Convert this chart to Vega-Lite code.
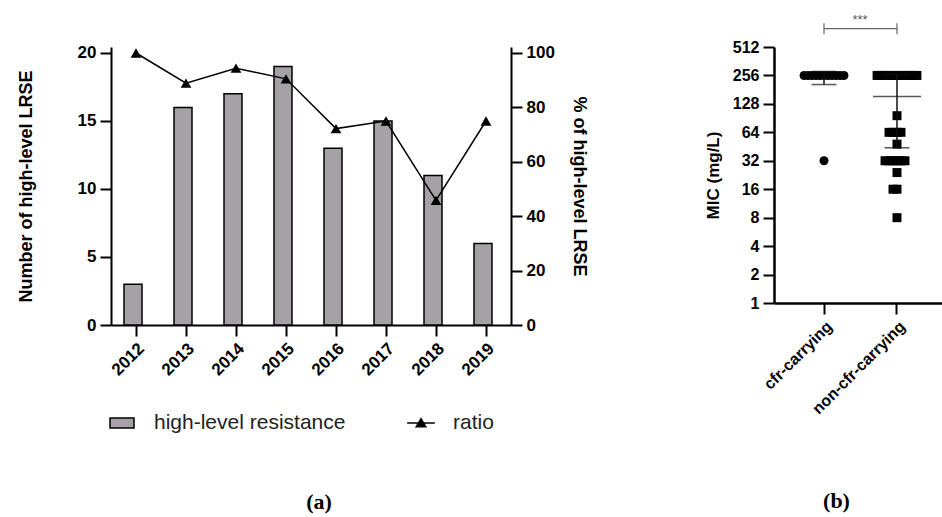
{
  "$schema": "https://vega.github.io/schema/vega-lite/v6.json",
  "padding": {"left": 17, "top": 13, "right": 0, "bottom": 0},
  "background": "white",
  "bounds": "flush",
  "spacing": 263,
  "config": {
    "font": "Liberation Sans",
    "view": {"stroke": null},
    "axis": {
      "domainColor": "#000", "domainWidth": 2, "tickColor": "#000", "tickWidth": 2, "tickSize": 11,
      "labelColor": "#000", "labelFont": "Liberation Sans", "labelFontWeight": "bold", "labelFontSize": 17,
      "titleFont": "Liberation Sans", "titleFontWeight": "bold", "titleFontSize": 18, "titleColor": "#000",
      "grid": false, "labelPadding": 4
    },
    "legend": {"labelFontSize": 21, "labelFont": "Liberation Sans", "labelColor": "#222", "labelFontWeight": "normal", "labelLimit": 400},
    "title": {"font": "Liberation Serif", "fontWeight": "bold", "fontSize": 22, "color": "#000"}
  },
  "datasets": {
    "yearly": [
      {"year": "2012", "count": 3, "ratio": 100},
      {"year": "2013", "count": 16, "ratio": 88.9},
      {"year": "2014", "count": 17, "ratio": 94.4},
      {"year": "2015", "count": 19, "ratio": 90.5},
      {"year": "2016", "count": 13, "ratio": 72.2},
      {"year": "2017", "count": 15, "ratio": 75},
      {"year": "2018", "count": 11, "ratio": 45.8},
      {"year": "2019", "count": 6, "ratio": 75}
    ],
    "mic": [
      {"group": "cfr-carrying", "mic": 256}, {"group": "cfr-carrying", "mic": 256}, {"group": "cfr-carrying", "mic": 256},
      {"group": "cfr-carrying", "mic": 256}, {"group": "cfr-carrying", "mic": 256}, {"group": "cfr-carrying", "mic": 256},
      {"group": "cfr-carrying", "mic": 256}, {"group": "cfr-carrying", "mic": 256}, {"group": "cfr-carrying", "mic": 256},
      {"group": "cfr-carrying", "mic": 256}, {"group": "cfr-carrying", "mic": 256},
      {"group": "cfr-carrying", "mic": 32},
      {"group": "non-cfr-carrying", "mic": 256}, {"group": "non-cfr-carrying", "mic": 256}, {"group": "non-cfr-carrying", "mic": 256},
      {"group": "non-cfr-carrying", "mic": 256}, {"group": "non-cfr-carrying", "mic": 256}, {"group": "non-cfr-carrying", "mic": 256},
      {"group": "non-cfr-carrying", "mic": 256}, {"group": "non-cfr-carrying", "mic": 256}, {"group": "non-cfr-carrying", "mic": 256},
      {"group": "non-cfr-carrying", "mic": 256}, {"group": "non-cfr-carrying", "mic": 256},
      {"group": "non-cfr-carrying", "mic": 96},
      {"group": "non-cfr-carrying", "mic": 64}, {"group": "non-cfr-carrying", "mic": 64}, {"group": "non-cfr-carrying", "mic": 64}, {"group": "non-cfr-carrying", "mic": 64},
      {"group": "non-cfr-carrying", "mic": 48},
      {"group": "non-cfr-carrying", "mic": 32}, {"group": "non-cfr-carrying", "mic": 32}, {"group": "non-cfr-carrying", "mic": 32},
      {"group": "non-cfr-carrying", "mic": 32}, {"group": "non-cfr-carrying", "mic": 32}, {"group": "non-cfr-carrying", "mic": 32},
      {"group": "non-cfr-carrying", "mic": 24},
      {"group": "non-cfr-carrying", "mic": 16}, {"group": "non-cfr-carrying", "mic": 16},
      {"group": "non-cfr-carrying", "mic": 8}
    ],
    "summary": [
      {"group": "cfr-carrying", "mean": 243, "lo": 205, "hi": 282},
      {"group": "non-cfr-carrying", "mean": 153, "lo": 44, "hi": 262}
    ],
    "sig": [
      {"from": "cfr-carrying", "to": "non-cfr-carrying", "label": "***"}
    ]
  },
  "hconcat": [
    {
      "width": 400,
      "height": 278,
      "title": {"text": "(a)", "orient": "bottom", "offset": 114, "anchor": "middle", "frame": "group", "dx": 8},
      "data": {"name": "yearly"},
      "layer": [
        {
          "mark": {"type": "bar", "stroke": "#000", "strokeWidth": 1.5},
          "encoding": {
            "x": {"field": "year", "type": "ordinal", "scale": {"paddingInner": 0.52, "paddingOuter": 0.26},
                  "axis": {"title": null, "labelAngle": -45, "labelFontSize": 17}},
            "y": {"field": "count", "type": "quantitative", "scale": {"domain": [0, 20.44], "nice": false},
                  "axis": {"title": "Number of high-level LRSE", "values": [0, 5, 10, 15, 20], "titlePadding": 42}},
            "fill": {
              "datum": "high-level resistance", "type": "nominal",
              "scale": {"domain": ["high-level resistance"], "range": ["#a6a1a6"]},
              "legend": {
                "orient": "none", "legendX": -2, "legendY": 363, "direction": "horizontal", "title": null,
                "symbolSize": 576, "symbolType": "M-1,-0.42H1V0.42H-1Z",
                "symbolStrokeColor": "#000", "symbolStrokeWidth": 1.5, "symbolOpacity": 1,
                "labelOffset": 19, "padding": 0
              }
            }
          }
        },
        {
          "layer": [
            {
              "mark": {"type": "line", "strokeWidth": 1.5},
              "encoding": {
                "x": {"field": "year", "type": "ordinal"},
                "y": {"field": "ratio", "type": "quantitative", "scale": {"domain": [0, 102.2], "nice": false},
                      "axis": {"orient": "right", "title": "% of high-level LRSE", "values": [0, 20, 40, 60, 80, 100], "titlePadding": 15}},
                "stroke": {
                  "datum": "ratio", "type": "nominal",
                  "scale": {"domain": ["ratio"], "range": ["#000000"]},
                  "legend": {
                    "orient": "none", "legendX": 297, "legendY": 363, "direction": "horizontal", "title": null,
                    "symbolSize": 576, "symbolType": "M-1.15,0H1.15M0,-0.36L0.4,0.32H-0.4Z",
                    "symbolFillColor": "#000", "symbolStrokeWidth": 1.5, "symbolOpacity": 1,
                    "labelOffset": 19, "padding": 0
                  }
                }
              }
            },
            {
              "mark": {"type": "point", "shape": "triangle-up", "size": 115, "filled": true, "opacity": 1, "color": "#000"},
              "encoding": {
                "x": {"field": "year", "type": "ordinal"},
                "y": {"field": "ratio", "type": "quantitative"}
              }
            }
          ]
        }
      ],
      "resolve": {"scale": {"y": "independent"}}
    },
    {
      "width": 173,
      "height": 256,
      "title": {"text": "(b)", "orient": "bottom", "offset": 74, "anchor": "middle", "frame": "group", "dx": -24},
      "layer": [
        {
          "data": {"name": "mic"},
          "transform": [{"window": [{"op": "row_number", "as": "rank"}], "groupby": ["group", "mic"]}],
          "mark": {"type": "point", "filled": true, "opacity": 1, "size": 81, "color": "#000"},
          "encoding": {
            "x": {"field": "group", "type": "nominal",
                  "scale": {"domain": ["cfr-carrying", "non-cfr-carrying"], "paddingInner": 0.4, "paddingOuter": 0.385},
                  "axis": {"title": null, "labelAngle": -45, "labelFontSize": 16, "domainWidth": 2.5}},
            "xOffset": {"field": "rank", "type": "nominal", "scale": {"domain": [10, 8, 6, 4, 2, 1, 3, 5, 7, 9, 11]}},
            "y": {"field": "mic", "type": "quantitative",
                  "scale": {"type": "log", "base": 2, "domain": [1, 512], "nice": false},
                  "axis": {"title": "MIC (mg/L)", "values": [1, 2, 4, 8, 16, 32, 64, 128, 256, 512], "format": "d",
                           "labelFontSize": 16, "titleFontSize": 17, "titlePadding": 10, "domainWidth": 2.5}},
            "shape": {"field": "group", "type": "nominal", "scale": {"range": ["circle", "square"]}, "legend": null}
          }
        },
        {
          "data": {"name": "summary"},
          "mark": {"type": "rule", "strokeWidth": 1.5, "color": "#111"},
          "encoding": {
            "x": {"field": "group", "type": "nominal"},
            "y": {"field": "lo", "type": "quantitative"},
            "y2": {"field": "hi"}
          }
        },
        {
          "data": {"name": "summary"},
          "mark": {"type": "tick", "size": 48, "thickness": 1.5, "color": "#111"},
          "encoding": {
            "x": {"field": "group", "type": "nominal"},
            "y": {"field": "mean", "type": "quantitative"}
          }
        },
        {
          "data": {"name": "summary"},
          "mark": {"type": "tick", "size": 25, "thickness": 1.5, "color": "#111"},
          "encoding": {
            "x": {"field": "group", "type": "nominal"},
            "y": {"field": "lo", "type": "quantitative"}
          }
        },
        {
          "data": {"name": "summary"},
          "mark": {"type": "tick", "size": 25, "thickness": 1.5, "color": "#111"},
          "encoding": {
            "x": {"field": "group", "type": "nominal"},
            "y": {"field": "hi", "type": "quantitative"}
          }
        },
        {
          "data": {"name": "sig"},
          "mark": {"type": "rule", "strokeWidth": 1.2, "color": "#666"},
          "encoding": {
            "x": {"field": "from", "type": "nominal"},
            "x2": {"field": "to"},
            "y": {"datum": 800}
          }
        },
        {
          "data": {"name": "sig"},
          "transform": [{"fold": ["from", "to"], "as": ["end", "grp"]}],
          "mark": {"type": "rule", "strokeWidth": 1.2, "color": "#666"},
          "encoding": {
            "x": {"field": "grp", "type": "nominal"},
            "y": {"datum": 700},
            "y2": {"datum": 915}
          }
        },
        {
          "data": {"name": "sig"},
          "mark": {"type": "text", "color": "#555", "fontSize": 13, "baseline": "bottom", "dx": 36, "dy": -2},
          "encoding": {
            "x": {"field": "from", "type": "nominal"},
            "y": {"datum": 800},
            "text": {"field": "label"}
          }
        }
      ]
    }
  ]
}
